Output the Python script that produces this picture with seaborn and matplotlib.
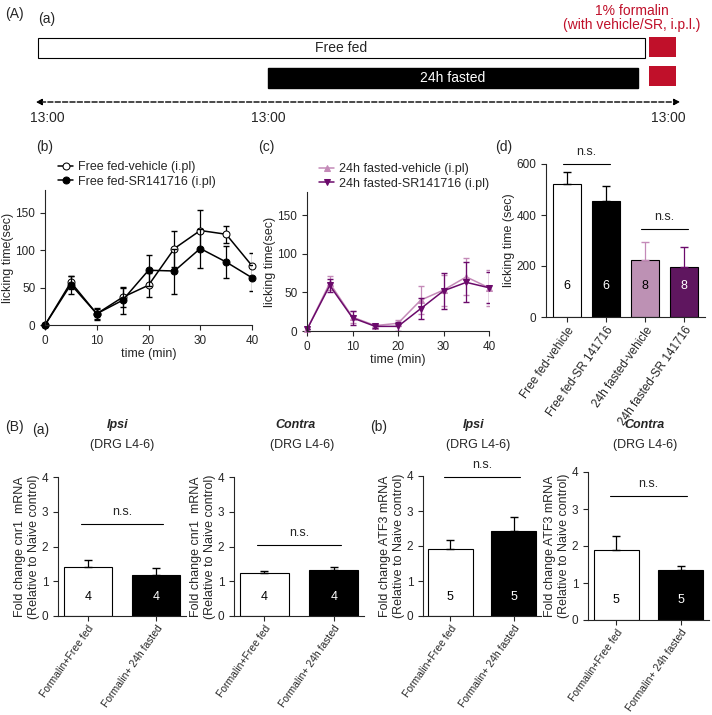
import numpy as np
import pandas as pd
import matplotlib
matplotlib.use("Agg")
import matplotlib.pyplot as plt
import seaborn as sns
from matplotlib.patches import Rectangle

sns.set_style("ticks")
plt.rcParams['font.family'] = ['Liberation Sans', 'DejaVu Sans']
plt.rcParams['font.size'] = 9
plt.rcParams['xtick.labelsize'] = 8.5
plt.rcParams['ytick.labelsize'] = 8.5

W, H = 712, 715
time = [0, 5, 10, 15, 20, 25, 30, 35, 40]
ff_veh = [0, 57, 15, 37, 53, 102, 126, 121, 79]
ff_veh_err = [0, 9, 7, 13, 16, 24, 27, 11, 17]
ff_sr = [0, 54, 15, 33, 73, 72, 102, 84, 63]
ff_sr_err = [0, 12, 8, 18, 21, 30, 26, 21, 17]
fa_veh = [2, 62, 18, 7, 10, 40, 53, 70, 56]
fa_veh_err = [0, 9, 8, 2, 4, 18, 20, 24, 23]
fa_sr = [2, 59, 17, 6, 6, 29, 52, 63, 56]
fa_sr_err = [0, 8, 9, 2, 6, 14, 23, 26, 20]

d_groups = ["Free fed-vehicle", "Free fed-SR 141716", "24h fasted-vehicle", "24h fasted-SR 141716"]
d_vals = [520, 455, 222, 197]
d_err = [50, 60, 72, 77]
d_n = ["6", "6", "8", "8"]

b_groups = ["Formalin+Free fed", "Formalin+ 24h fasted"]
cnr1_ipsi = [1.42, 1.18]; cnr1_ipsi_err = [0.2, 0.2]
cnr1_contra = [1.25, 1.33]; cnr1_contra_err = [0.05, 0.08]
atf3_ipsi = [1.92, 2.44]; atf3_ipsi_err = [0.25, 0.38]
atf3_contra = [1.9, 1.35]; atf3_contra_err = [0.37, 0.12]
n_cnr1 = ["4", "4"]; n_atf3 = ["5", "5"]

PINK = "#c48ab8"; PURPLE = "#6b0a6b"; RED = "#c0102a"

fig = plt.figure(figsize=(W/100, H/100), dpi=100)

def ax_px(x0, x1, ytop, ybot):
    return fig.add_axes([x0/W, 1-ybot/H, (x1-x0)/W, (ybot-ytop)/H])

ov = fig.add_axes([0, 0, 1, 1]); ov.set_xlim(0, W); ov.set_ylim(H, 0); ov.axis("off")
ov.text(5, 14, "(A)", fontsize=10, va="center")
ov.text(38, 19, "(a)", fontsize=10, va="center")
ov.add_patch(Rectangle((38, 38), 607, 20, fc="white", ec="black", lw=0.8))
ov.text(341, 48, "Free fed", ha="center", va="center", fontsize=10)
ov.add_patch(Rectangle((268, 68), 370, 20, fc="black", ec="black"))
ov.text(453, 78, "24h fasted", ha="center", va="center", fontsize=10, color="white")
ov.add_patch(Rectangle((649, 37), 27, 20, fc=RED, ec="none"))
ov.add_patch(Rectangle((649, 66), 27, 20, fc=RED, ec="none"))
ov.text(632, 18, "1% formalin\n(with vehicle/SR, i.p.l.)", ha="center", va="center", color=RED, fontsize=10, linespacing=1.0)
ov.annotate("", xy=(33, 102), xytext=(683, 102), arrowprops=dict(arrowstyle="<|-|>", ls="--", color="black", lw=1))
for x in (47, 268, 668):
    ov.text(x, 118, "13:00", ha="center", va="center", fontsize=10)
ov.text(36, 147, "(b)", fontsize=10, va="center")
ov.text(258, 147, "(c)", fontsize=10, va="center")
ov.text(495, 147, "(d)", fontsize=10, va="center")
ov.text(5, 427, "(B)", fontsize=10, va="center")
ov.text(32, 430, "(a)", fontsize=10, va="center")
ov.text(370, 427, "(b)", fontsize=10, va="center")
for x, t in [(118, "Ipsi"), (296, "Contra"), (474, "Ipsi"), (645, "Contra")]:
    ov.text(x, 425, t, ha="center", va="center", fontsize=9, fontweight="bold", style="italic")
for x in (122, 302, 478, 645):
    ov.text(x, 445, "(DRG L4-6)", ha="center", va="center", fontsize=9)

def line_panel(ax, series, ylabel):
    for y, e, col, mk, mfc, lab in series:
        df = pd.DataFrame({"t": time, "y": y})
        ax.errorbar(time, y, yerr=e, fmt="none", ecolor=col, capsize=2.5, lw=0.9)
        sns.lineplot(data=df, x="t", y="y", ax=ax, color=col, marker=mk, markersize=5,
                     markerfacecolor=mfc, markeredgecolor=col, lw=1.1, label=lab, clip_on=False)
    ax.set_xlim(0, 40); ax.set_ylim(0, 180)
    ax.set_xticks([0, 10, 20, 30, 40]); ax.set_yticks([0, 50, 100, 150])
    ax.set_xlabel("time (min)", fontsize=9, labelpad=1); ax.set_ylabel(ylabel, fontsize=9, labelpad=1)
    ax.legend(loc="lower left", bbox_to_anchor=(0.04, 0.98), frameon=False, fontsize=9,
              handlelength=1.2, handletextpad=0.4, labelspacing=0.2, borderaxespad=0)
    sns.despine(ax=ax)

axb = ax_px(45, 252, 190, 325)
line_panel(axb, [(ff_veh, ff_veh_err, "black", "o", "white", "Free fed-vehicle (i.pl)"),
                 (ff_sr, ff_sr_err, "black", "o", "black", "Free fed-SR141716 (i.pl)")], "licking time(sec)")
axc = ax_px(307, 489, 192, 331)
line_panel(axc, [(fa_veh, fa_veh_err, PINK, "^", PINK, "24h fasted-vehicle (i.pl)"),
                 (fa_sr, fa_sr_err, PURPLE, "v", PURPLE, "24h fasted-SR141716 (i.pl)")], "licking time(sec)")

def bar_panel(ax, groups, vals, errs, cols, ns, ylim, yticks, ylabel, sig, nsy, nlabel_y, ncols, xfs):
    df = pd.DataFrame({"g": groups, "v": vals})
    sns.barplot(data=df, x="g", y="v", hue="g", palette=cols, ax=ax, edgecolor="black",
                linewidth=0.8, width=0.7, legend=False, errorbar=None)
    for i, (v, e) in enumerate(zip(vals, errs)):
        ax.errorbar([i], [v], yerr=[[0], [e]], fmt="none", ecolor=cols[i] if cols[i] != "white" else "black",
                    capsize=3, lw=0.9)
        ax.text(i, nlabel_y, ns[i], ha="center", va="center", color=ncols[i], fontsize=9)
    for (a, b), y in zip(sig, nsy):
        ax.plot([a - 0.1, b + 0.1], [y, y], color="black", lw=0.8, clip_on=False)
        ax.text((a + b) / 2, y + (ylim[1]) * 0.04, "n.s.", ha="center", va="bottom", fontsize=9)
    ax.set_ylim(*ylim); ax.set_yticks(yticks)
    ax.set_xlabel(""); ax.set_ylabel(ylabel, fontsize=9, labelpad=1)
    ax.tick_params(axis="x", labelrotation=55, labelsize=xfs, pad=2)
    for lab in ax.get_xticklabels():
        lab.set_ha("right"); lab.set_rotation_mode("anchor")
    sns.despine(ax=ax)

axd = ax_px(546, 705, 164, 317)
bar_panel(axd, d_groups, d_vals, d_err, ["white", "black", PINK, PURPLE], d_n, (0, 600),
          [0, 200, 400, 600], "licking time (sec)", [(0, 1), (2, 3)], [600, 345], 120,
          ["black", "white", "black", "white"], 8.5)

ylab_c = "Fold change cnr1  mRNA\n(Relative to Naive control)"
ylab_a = "Fold change ATF3 mRNA\n(Relative to Naive control)"
specs = [((58, 186, 477, 616), cnr1_ipsi, cnr1_ipsi_err, ylab_c, 2.65, n_cnr1),
         ((234, 364, 477, 616), cnr1_contra, cnr1_contra_err, ylab_c, 2.05, n_cnr1),
         ((423, 541, 476, 616), atf3_ipsi, atf3_ipsi_err, ylab_a, 3.98, n_atf3),
         ((588, 709, 472, 620), atf3_contra, atf3_contra_err, ylab_a, 3.35, n_atf3)]
for (x0, x1, yt, yb), v, e, yl, nsy, n in specs:
    a = ax_px(x0, x1, yt, yb)
    bar_panel(a, b_groups, v, e, ["white", "black"], n, (0, 4), [0, 1, 2, 3, 4], yl,
              [(0, 1)], [nsy], 0.55, ["black", "white"], 7.5)

fig.savefig("out.png", dpi=100)
